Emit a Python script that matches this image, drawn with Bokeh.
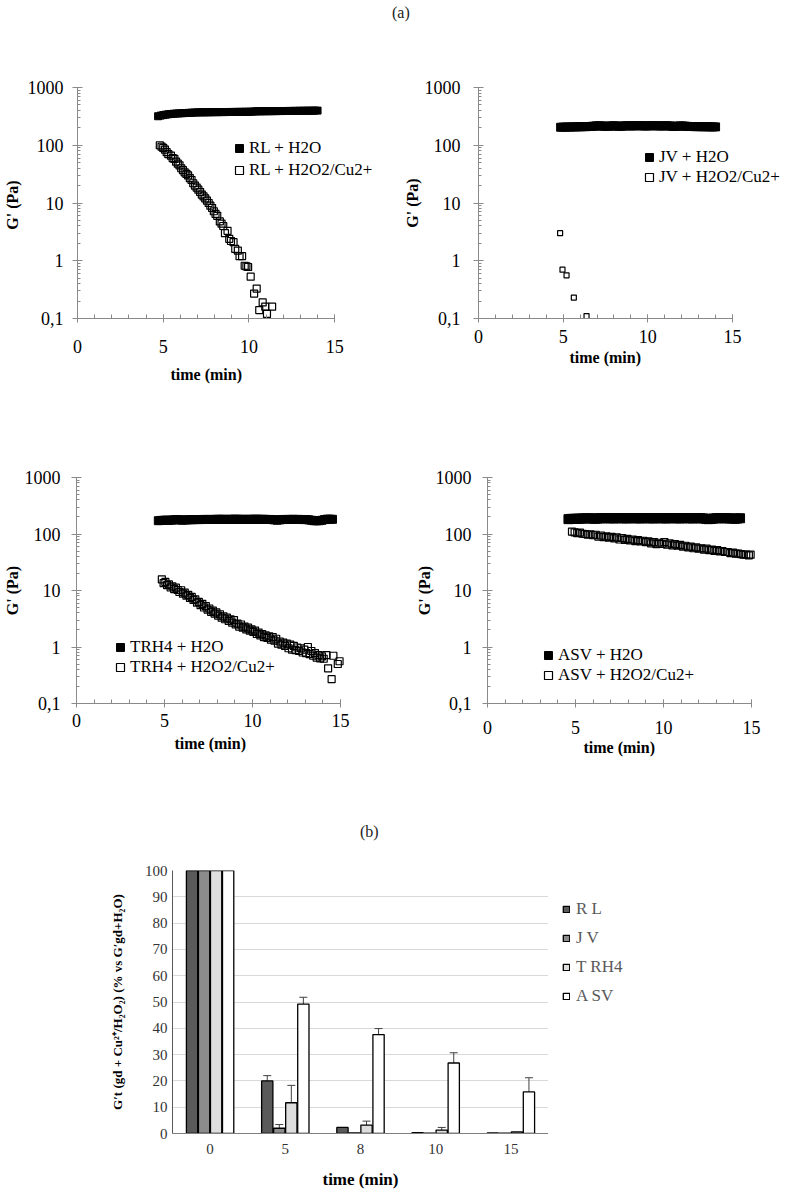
from bokeh.plotting import figure
from bokeh.layouts import column, row
from bokeh.models import (Range1d, FixedTicker, SingleIntervalTicker, Legend, LegendItem, Title,
                          Div, FactorRange, ColumnDataSource, Whisker, TeeHead)
from bokeh.transform import dodge
from bokeh.embed import file_html
from bokeh.resources import INLINE

FONT = "Liberation Serif"

# ---------------- data: panel (a), (time min, G' Pa) ----------------
rl_h2o = [(4.70,318),(4.85,326),(5.00,333),(5.15,339),(5.30,344),(5.45,348),(5.60,351),(5.75,354),
          (5.90,356),(6.05,358),(6.20,360),(6.35,362),(6.50,364),(6.65,366),(6.80,368),(6.95,370),
          (7.10,371),(7.25,371),(7.40,372),(7.55,372),(7.70,373),(7.85,373),(8.00,374),(8.15,374),
          (8.30,375),(8.45,375),(8.60,376),(8.75,376),(8.90,377),(9.05,377),(9.20,378),(9.35,378),
          (9.50,379),(9.65,379),(9.80,380),(9.95,380),(10.10,381),(10.25,383),(10.40,386),(10.55,387),
          (10.70,387),(10.85,388),(11.00,388),(11.15,389),(11.30,389),(11.45,390),(11.60,390),(11.75,391),
          (11.90,391),(12.05,392),(12.20,392),(12.35,393),(12.50,393),(12.65,394),(12.80,394),(12.95,395),
          (13.10,395),(13.25,396),(13.40,396),(13.55,397),(13.70,397),(13.85,398),(14.00,398)]
rl_h2o2 = [(4.80,100),(4.90,95),(5.00,90),(5.10,84),(5.20,76),(5.30,70),(5.45,66),(5.55,60),(5.65,58),
           (5.75,52),(5.85,48),(5.95,45),(6.05,40),(6.15,37),(6.25,34),(6.35,32),(6.45,30),(6.55,27),
           (6.65,25),(6.75,22),(6.85,20),(6.95,18.5),(7.05,17),(7.15,15.5),(7.25,14),(7.35,13),(7.45,12),
           (7.55,11),(7.65,10),(7.75,9.0),(7.85,8.2),(7.95,7.2),(8.05,6.5),(8.15,6.0),(8.30,4.8),(8.40,4.4),
           (8.50,4.0),(8.60,3.0),(8.75,3.3),(8.85,2.4),(8.95,2.2),(9.10,2.1),(9.20,1.6),(9.35,1.5),(9.45,1.2),
           (9.60,1.2),(9.75,0.82),(9.85,0.80),(9.95,0.78),(10.10,0.53),(10.30,0.27),(10.45,0.33),(10.60,0.14),
           (10.80,0.19),(10.95,0.16),(11.05,0.12),(11.35,0.16)]

jv_h2o = [(4.85,205),(5.00,206),(5.15,206),(5.30,207),(5.45,207),(5.60,208),(5.75,208),(5.90,209),
          (6.05,209),(6.20,210),(6.35,210),(6.50,211),(6.65,212),(6.80,214),(6.95,216),(7.10,217),
          (7.25,216),(7.40,214),(7.55,213),(7.70,214),(7.85,216),(8.00,217),(8.15,215),(8.30,213),
          (8.45,214),(8.60,216),(8.75,217),(8.90,217),(9.05,216),(9.20,217),(9.35,218),(9.50,218),
          (9.65,217),(9.80,216),(9.95,216),(10.10,217),(10.25,218),(10.40,218),(10.55,217),(10.70,216),
          (10.85,216),(11.00,217),(11.15,217),(11.30,216),(11.45,213),(11.60,212),(11.75,214),(11.90,216),
          (12.05,216),(12.20,214),(12.35,212),(12.50,211),(12.65,211),(12.80,210),(12.95,210),(13.10,210),
          (13.25,209),(13.40,209),(13.55,209),(13.70,208),(13.85,208),(14.00,208)]
jv_h2o2 = [(4.82,3.0),(4.96,0.70),(5.20,0.56),(5.63,0.23),(6.38,0.11)]

trh4_h2o = [(4.65,172),(4.80,174),(4.95,175),(5.10,176),(5.25,175),(5.40,176),(5.55,178),(5.70,180),
            (5.85,178),(6.00,176),(6.15,177),(6.30,178),(6.45,179),(6.60,179),(6.75,180),(6.90,180),
            (7.05,180),(7.20,181),(7.35,181),(7.50,181),(7.65,181),(7.80,181),(7.95,182),(8.10,182),
            (8.25,182),(8.40,182),(8.55,181),(8.70,182),(8.85,182),(9.00,183),(9.15,182),(9.30,182),
            (9.45,182),(9.60,181),(9.75,182),(9.90,182),(10.05,182),(10.20,183),(10.35,182),(10.50,182),
            (10.65,182),(10.80,181),(10.95,181),(11.10,180),(11.25,178),(11.40,176),(11.55,178),(11.70,180),
            (11.85,181),(12.00,181),(12.15,181),(12.30,182),(12.45,181),(12.60,181),(12.75,181),(12.90,180),
            (13.05,180),(13.20,178),(13.35,175),(13.50,172),(13.65,171),(13.80,172),(13.95,175),(14.10,180),
            (14.25,183),(14.40,183),(14.55,182)]
trh4_h2o2 = [(4.85,15.8),(4.95,13.5),(5.05,14.2),(5.15,12.4),(5.25,12.8),(5.35,11.3),(5.45,11.8),(5.55,10.6),
             (5.65,11.2),(5.75,10.2),(5.85,9.4),(5.95,10.1),(6.05,8.8),(6.15,9.2),(6.25,8.1),(6.35,8.4),
             (6.45,7.4),(6.55,7.7),(6.65,6.8),(6.75,7.0),(6.85,6.1),(6.95,6.3),(7.05,5.5),(7.15,5.8),
             (7.25,5.0),(7.35,5.3),(7.45,4.6),(7.55,4.8),(7.65,4.2),(7.75,4.4),(7.85,3.9),(7.95,4.1),
             (8.05,3.6),(8.15,3.8),(8.25,3.3),(8.35,3.5),(8.45,3.1),(8.55,3.3),(8.65,2.9),(8.75,3.1),
             (8.85,2.7),(8.95,3.0),(9.05,2.5),(9.15,2.6),(9.25,2.3),(9.35,2.5),(9.45,2.2),(9.55,2.3),
             (9.65,2.05),(9.75,2.2),(9.85,1.95),(9.95,2.05),(10.05,1.85),(10.15,1.95),(10.25,1.7),(10.35,1.8),
             (10.45,1.6),(10.55,1.7),(10.65,1.5),(10.75,1.6),(10.85,1.45),(10.95,1.55),(11.05,1.35),(11.15,1.5),
             (11.25,1.3),(11.35,1.4),(11.45,1.15),(11.55,1.25),(11.65,1.1),(11.75,1.2),(11.85,1.05),(11.95,1.15),
             (12.05,0.95),(12.15,1.1),(12.25,0.9),(12.35,1.05),(12.45,0.88),(12.55,0.98),(12.65,0.85),(12.75,0.95),
             (12.85,0.80),(12.95,0.90),(13.05,0.78),(13.15,1.0),(13.25,0.75),(13.35,0.85),(13.45,0.70),(13.55,0.78),
             (13.65,0.65),(13.75,0.72),(13.85,0.63),(13.95,0.68),(14.05,0.62),(14.20,0.72),(14.30,0.42),(14.50,0.27),
             (14.60,0.70),(14.85,0.50),(14.95,0.56)]

asv_h2o = [(4.60,183),(4.75,185),(4.90,186),(5.05,186),(5.20,187),(5.35,188),(5.50,189),(5.65,189),
           (5.80,190),(5.95,188),(6.10,186),(6.25,188),(6.40,190),(6.55,190),(6.70,191),(6.85,190),
           (7.00,190),(7.15,189),(7.30,190),(7.45,191),(7.60,190),(7.75,190),(7.90,189),(8.05,190),
           (8.20,191),(8.35,190),(8.50,190),(8.65,189),(8.80,190),(8.95,191),(9.10,190),(9.25,190),
           (9.40,189),(9.55,190),(9.70,191),(9.85,190),(10.00,190),(10.15,189),(10.30,190),(10.45,191),
           (10.60,190),(10.75,190),(10.90,189),(11.05,190),(11.20,191),(11.35,190),(11.50,190),(11.65,189),
           (11.80,190),(11.95,191),(12.10,190),(12.25,189),(12.40,186),(12.55,183),(12.70,185),(12.85,188),
           (13.00,190),(13.15,190),(13.30,191),(13.45,190),(13.60,190),(13.75,189),(13.90,188),(14.05,186),
           (14.20,188),(14.35,190)]
asv_h2o2 = [(4.80,110),(4.95,107),(5.10,104),(5.25,106),(5.40,101),(5.55,100),(5.70,97),(5.85,99),
            (6.00,95),(6.15,97),(6.30,90),(6.45,94),(6.60,88),(6.75,91),(6.90,86),(7.05,89),
            (7.20,84),(7.35,87),(7.50,80),(7.65,85),(7.80,79),(7.95,82),(8.10,77),(8.25,80),
            (8.40,75),(8.55,78),(8.70,74),(8.85,76),(9.00,72),(9.15,74),(9.30,68),(9.45,72),
            (9.60,66),(9.75,70),(9.90,67),(10.05,72),(10.20,65),(10.35,68),(10.50,63),(10.65,66),
            (10.80,62),(10.95,64),(11.10,60),(11.25,62),(11.40,58),(11.55,60),(11.70,56),(11.85,58),
            (12.00,55),(12.15,56),(12.30,53),(12.45,55),(12.60,52),(12.75,53),(12.90,50),(13.05,52),
            (13.20,49),(13.35,50),(13.50,48),(13.65,48),(13.80,46),(13.95,47),(14.10,45),(14.25,45),
            (14.40,44),(14.55,43),(14.70,43),(14.85,42),(14.95,43)]

y_ticks = [0.1, 1, 10, 100, 1000]
y_tick_labels = ["0,1", "1", "10", "100", "1000"]
y_minor = [0.2, 0.3, 0.4, 0.5, 0.6, 0.7, 0.8, 0.9, 2, 3, 4, 5, 6, 7, 8, 9,
           20, 30, 40, 50, 60, 70, 80, 90, 200, 300, 400, 500, 600, 700, 800, 900]

# ---------------- data: panel (b) ----------------
times = ["0", "5", "8", "10", "15"]
bar_names = ["R L", "J V", "T RH4", "A SV"]
rl_pct = [100, 20.0, 2.3, 0.3, 0.2]
jv_pct = [100, 2.0, 0.2, 0.1, 0.1]
trh4_pct = [100, 11.7, 3.2, 1.3, 0.6]
asv_pct = [100, 49.2, 37.6, 26.8, 15.8]
rl_err = [0, 2.0, 0, 0, 0]
jv_err = [0, 1.4, 0, 0, 0]
trh4_err = [0, 6.6, 1.5, 1.0, 0]
asv_err = [0, 2.6, 2.3, 3.9, 5.4]
bar_colors = ["#5a5a5a", "#8c8c8c", "#dedede", "#ffffff"]

X_MAX = 15


def header(text, w, h, pad_left, pad_top):
    html = ('<div style="white-space:nowrap;text-align:left;font-family:\'Liberation Serif\';'
            'font-size:16px;line-height:18px;color:#222;padding-left:%dpx;padding-top:%dpx;">%s</div>'
            % (pad_left, pad_top, text))
    return Div(text=html, width=w, height=h, margin=0)


def scatter_panel(water, perox, labels, geom, sizes, legend_xy, ylabel, st):
    left, fw, right, top, fh, bottom = geom
    fw_ext = fw + right  # frame stretched to the right edge so the legend is not clipped
    p = figure(width=left + fw_ext, height=top + fh + bottom,
               x_range=Range1d(0, X_MAX * fw_ext / fw), y_range=Range1d(0.1, 1000), y_axis_type="log",
               output_backend="svg", toolbar_location=None,
               min_border_left=left, min_border_right=0,
               min_border_top=top, min_border_bottom=bottom)
    p.grid.visible = False
    p.outline_line_color = None
    r1 = p.scatter([a for a, b in water], [b for a, b in water], marker="square",
                   size=sizes[0], fill_color="black", line_color="black")
    r2 = p.scatter([a for a, b in perox], [b for a, b in perox], marker="square",
                   size=sizes[1], fill_color=None, line_color="black", line_width=1.2)
    leg = Legend(items=[LegendItem(label=labels[0], renderers=[r1]),
                        LegendItem(label=labels[1], renderers=[r2])],
                 location=legend_xy[:2], border_line_color=None, background_fill_alpha=0,
                 padding=0, margin=0, spacing=legend_xy[2], label_height=20, glyph_width=20,
                 glyph_height=20, label_standoff=0, label_text_font=FONT, label_text_font_size="17px",
                 label_text_color="black")
    p.add_layout(leg)

    ya = p.yaxis[0]
    ya.ticker = FixedTicker(ticks=y_ticks, minor_ticks=y_minor)
    ya.major_label_overrides = dict(zip(y_ticks, y_tick_labels))
    ya.axis_label = ylabel
    xa = p.xaxis[0]
    xa.ticker = SingleIntervalTicker(interval=5, num_minor_ticks=5)
    xa.bounds = (0, X_MAX)
    for ax in (xa, ya):
        ax.axis_line_color = "#8a8a8a"
        ax.major_tick_line_color = "#8a8a8a"
        ax.minor_tick_line_color = "#8a8a8a"
        ax.major_label_text_font = FONT
        ax.major_label_text_font_size = "18px"
        ax.major_label_text_color = "black"
        ax.axis_label_text_font = FONT
        ax.axis_label_text_font_size = "16px"
        ax.axis_label_text_font_style = "bold"
        ax.axis_label_text_color = "black"
    ya.major_tick_in = 5
    ya.major_tick_out = 5
    ya.minor_tick_in = 3
    ya.minor_tick_out = 0
    xa.major_tick_in = 4
    xa.major_tick_out = 4
    xa.minor_tick_in = 4
    xa.minor_tick_out = 0
    ya.major_label_standoff = st[0]
    ya.axis_label_standoff = st[1]
    xa.major_label_standoff = st[2]
    # x-axis title centred under the 0-15 part of the axis
    p.add_layout(Title(text="time (min)", align="left", offset=fw / 2 - 36, standoff=st[3],
                       text_font=FONT, text_font_size="16px", text_font_style="bold",
                       text_color="black"), "below")
    return p


hdr_a = header("(a)", 792, 38, 392, 4)

# geometry: left border, frame width, right border, top border, frame height, bottom border
p1 = scatter_panel(rl_h2o, rl_h2o2, ["RL + H2O", "RL + H2O2/Cu2+"],
                   (76, 258, 66, 49, 231, 82), (7, 7), (152, 138, 2), "G'  (Pa)", (9, 4, 17, 17))
p2 = scatter_panel(jv_h2o, jv_h2o2, ["JV + H2O", "JV + H2O2/Cu2+"],
                   (78, 254, 60, 49, 231, 82), (8, 5), (161, 131, 0), "G' (Pa)", (13, 1, 7, 3))
p3 = scatter_panel(trh4_h2o, trh4_h2o2, ["TRH4 + H2O", "TRH4 + H2O2/Cu2+"],
                   (71, 268, 61, 77, 226, 57), (8, 7), (34, 26, 0), "G' (Pa)", (11, 1, 6, 7))
p4 = scatter_panel(asv_h2o, asv_h2o2, ["ASV + H2O", "ASV + H2O2/Cu2+"],
                   (87, 264, 41, 77, 226, 57), (9, 7), (51, 18, 0), "G' (Pa)", (11, 0, 13, 0))

hdr_b = header("(b)", 792, 90, 360, 63)

# ---------------- bar chart ----------------
bp = figure(width=548, height=343, x_range=FactorRange(factors=times), y_range=Range1d(0, 100),
            output_backend="svg", toolbar_location=None,
            min_border_left=172, min_border_right=0, min_border_top=20, min_border_bottom=60)
bp.outline_line_color = None
bp.xgrid.visible = False
bp.ygrid.grid_line_color = "#d9d9d9"
bp.ygrid.grid_line_width = 1

# legend lives in its own small figure to the right of the bar chart
lg = figure(width=244, height=343, x_range=Range1d(0, 1), y_range=Range1d(0, 1),
            x_axis_type=None, y_axis_type=None, output_backend="svg", toolbar_location=None,
            min_border_left=0, min_border_right=0, min_border_top=20, min_border_bottom=60)
lg.outline_line_color = None
lg.grid.visible = False

src = ColumnDataSource(dict(t=times, RL=rl_pct, JV=jv_pct, TRH4=trh4_pct, ASV=asv_pct))
series = [("RL", rl_pct, rl_err, -0.24), ("JV", jv_pct, jv_err, -0.08),
          ("TRH4", trh4_pct, trh4_err, 0.08), ("ASV", asv_pct, asv_err, 0.24)]
items = []
for (key, vals, errs, off), name, col in zip(series, bar_names, bar_colors):
    bp.vbar(x=dodge("t", off, range=bp.x_range), top=key, width=0.15, source=src,
            fill_color=col, line_color="black", line_width=1.3)
    # legend-key proxy: a zero-size (invisible) bar that only supplies the legend swatch style
    key_r = lg.vbar(x=[0.9], top=[0.05], bottom=[0.05], width=0, fill_color=col,
                    line_color="black", line_width=1.3)
    items.append(LegendItem(label=name, renderers=[key_r]))
    et = [t for t, e in zip(times, errs) if e > 0]
    ev = [v for v, e in zip(vals, errs) if e > 0]
    ee = [e for e in errs if e > 0]
    if et:
        wsrc = ColumnDataSource(dict(t=et, upper=[v + e for v, e in zip(ev, ee)],
                                     lower=[v - e for v, e in zip(ev, ee)]))
        w = Whisker(source=wsrc, base=dodge("t", off, range=bp.x_range), upper="upper", lower="lower",
                    line_color="#404040", line_width=1,
                    upper_head=TeeHead(size=8, line_color="#404040", line_width=1),
                    lower_head=TeeHead(size=8, line_color="#404040", line_width=1))
        bp.add_layout(w)

bleg = Legend(items=items, location=(14, 127), border_line_color=None, background_fill_alpha=0,
              padding=0, margin=0, spacing=8, label_height=21, glyph_width=8, glyph_height=8,
              label_standoff=6, label_text_font=FONT, label_text_font_size="17px",
              label_text_color="#595959")
lg.add_layout(bleg)

bx = bp.xaxis[0]
by = bp.yaxis[0]
by.ticker = SingleIntervalTicker(interval=10)
bx.axis_label = "time (min)"
by.axis_label = "G′t (gd + Cu²⁺/H₂O₂) (% vs G′gd+H₂O)"
for ax in (bx, by):
    ax.major_tick_line_color = None
    ax.minor_tick_line_color = None
    ax.major_tick_out = 0
    ax.major_tick_in = 0
    ax.minor_tick_out = 0
    ax.minor_tick_in = 0
    ax.major_label_text_font = FONT
    ax.major_label_text_font_size = "15px"
    ax.major_label_text_color = "#333333"
    ax.axis_label_text_font = FONT
    ax.axis_label_text_font_style = "bold"
    ax.axis_label_text_color = "black"
bx.axis_line_color = "#7f7f7f"
by.axis_line_color = "#595959"
bx.axis_label_text_font_size = "17px"
by.axis_label_text_font_size = "13px"
bx.major_label_standoff = 10
bx.axis_label_standoff = 13
by.major_label_standoff = 5
by.axis_label_standoff = 17

layout = column(hdr_a, row(p1, p2), row(p3, p4), hdr_b, row(bp, lg))
open("out.html", "w").write(file_html(layout, INLINE))
